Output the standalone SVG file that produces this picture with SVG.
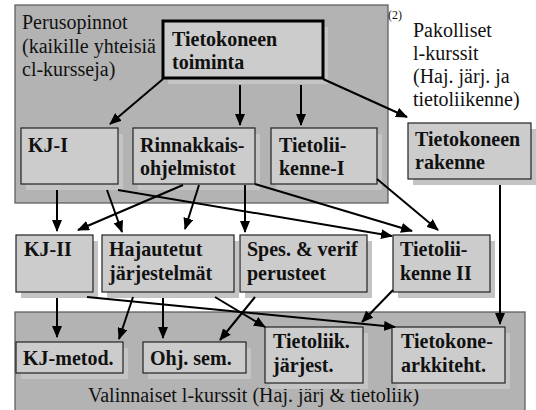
<svg xmlns="http://www.w3.org/2000/svg" width="536" height="410" viewBox="0 0 536 410">
<defs>
<marker id="ah" markerUnits="userSpaceOnUse" markerWidth="12" markerHeight="10" refX="11" refY="5" orient="auto">
<path d="M0,0 L12,5 L0,10 Z" fill="#000"/>
</marker>
<style>
.panel{fill:#b3b3b3;stroke:#555;stroke-width:1.2}
.sh{fill:#c4c4c4}
.box{fill:#cccccc;stroke:#222;stroke-width:1.2}
.bt{font-family:"Liberation Serif","Times New Roman",serif;font-weight:bold;font-size:20px;fill:#111}
.lt{font-family:"Liberation Serif","Times New Roman",serif;font-size:20px;fill:#111}
.c{stroke:#000;stroke-width:2;fill:none;marker-end:url(#ah)}
</style>
</defs>
<rect width="536" height="410" fill="#fff"/>
<g id="panel-top">
<rect class="panel" x="15" y="5" width="373" height="198"/>
<text class="lt" x="22" y="29">Perusopinnot</text>
<text class="lt" x="22" y="53">(kaikille yhteisiä</text>
<text class="lt" x="22" y="76">cl-kursseja)</text>
</g>
<g id="panel-bottom">
<rect class="panel" x="15" y="312" width="510" height="110"/>
<text class="lt" x="88" y="402">Valinnaiset l-kurssit (Haj. järj &amp; tietoliik)</text>
</g>
<g id="label-pakolliset">
<text class="lt" x="388" y="19" style="font-size:12px">(2)</text>
<text class="lt" x="413" y="37">Pakolliset</text>
<text class="lt" x="413" y="60">l-kurssit</text>
<text class="lt" x="413" y="83">(Haj. järj. ja</text>
<text class="lt" x="413" y="106">tietoliikenne)</text>
</g>
<g id="n-toiminta">
<rect class="sh" x="168" y="27" width="160" height="57"/>
<rect x="163" y="21" width="160" height="57" fill="#cccccc" stroke="#000" stroke-width="3"/>
<text class="bt" x="172" y="46">Tietokoneen</text>
<text class="bt" x="172" y="69">toiminta</text>
</g>
<g id="n-kj1">
<rect class="sh" x="26" y="134" width="97" height="56"/>
<rect class="box" x="21" y="128" width="97" height="56"/>
<text class="bt" x="28" y="152">KJ-I</text>
</g>
<g id="n-rinn">
<rect class="sh" x="138" y="134" width="122" height="56"/>
<rect class="box" x="133" y="128" width="122" height="56"/>
<text class="bt" x="140" y="152">Rinnakkais-</text>
<text class="bt" x="140" y="175">ohjelmistot</text>
</g>
<g id="n-tl1">
<rect class="sh" x="276" y="134" width="106" height="56"/>
<rect class="box" x="271" y="128" width="106" height="56"/>
<text class="bt" x="279" y="152">Tietolii-</text>
<text class="bt" x="279" y="175">kenne-I</text>
</g>
<g id="n-rakenne">
<rect class="sh" x="413" y="129" width="123" height="56"/>
<rect class="box" x="408" y="123" width="123" height="56"/>
<text class="bt" x="415" y="146">Tietokoneen</text>
<text class="bt" x="415" y="169">rakenne</text>
</g>
<g id="n-kj2">
<rect class="sh" x="21" y="241" width="77" height="57"/>
<rect class="box" x="16" y="235" width="77" height="57"/>
<text class="bt" x="24" y="256">KJ-II</text>
</g>
<g id="n-haj">
<rect class="sh" x="107" y="241" width="132" height="57"/>
<rect class="box" x="102" y="235" width="132" height="57"/>
<text class="bt" x="109" y="256">Hajautetut</text>
<text class="bt" x="109" y="280">järjestelmät</text>
</g>
<g id="n-spes">
<rect class="sh" x="245" y="241" width="127" height="57"/>
<rect class="box" x="240" y="235" width="127" height="57"/>
<text class="bt" x="247" y="256">Spes. &amp; verif</text>
<text class="bt" x="247" y="280">perusteet</text>
</g>
<g id="n-tl2">
<rect class="sh" x="398" y="241" width="97" height="57"/>
<rect class="box" x="393" y="235" width="97" height="57"/>
<text class="bt" x="400" y="256">Tietolii-</text>
<text class="bt" x="400" y="280">kenne II</text>
</g>
<g id="n-kjmetod">
<rect class="sh" x="21" y="348" width="107" height="31"/>
<rect class="box" x="16" y="342" width="107" height="31"/>
<text class="bt" x="23" y="365">KJ-metod.</text>
</g>
<g id="n-ohjsem">
<rect class="sh" x="148" y="348" width="103" height="31"/>
<rect class="box" x="143" y="342" width="103" height="31"/>
<text class="bt" x="150" y="365">Ohj. sem.</text>
</g>
<g id="n-tljarj">
<rect class="sh" x="270" y="333" width="98" height="56"/>
<rect class="box" x="265" y="327" width="98" height="56"/>
<text class="bt" x="273" y="348">Tietoliik.</text>
<text class="bt" x="273" y="372">järjest.</text>
</g>
<g id="n-arkk">
<rect class="sh" x="397" y="333" width="113" height="56"/>
<rect class="box" x="392" y="327" width="113" height="56"/>
<text class="bt" x="401" y="348">Tietokone-</text>
<text class="bt" x="401" y="372">arkkiteht.</text>
</g>
<g id="connectors">
<line class="c" x1="163" y1="79" x2="110" y2="124"/>
<line class="c" x1="240" y1="85" x2="240" y2="125"/>
<line class="c" x1="301" y1="85" x2="301" y2="125"/>
<line class="c" x1="323" y1="79" x2="407" y2="117"/>
<line class="c" x1="57" y1="190" x2="57" y2="231"/>
<line class="c" x1="183" y1="185" x2="78" y2="230"/>
<line class="c" x1="107" y1="190" x2="122" y2="232"/>
<line class="c" x1="199" y1="185" x2="185" y2="229"/>
<line class="c" x1="245" y1="185" x2="245" y2="232"/>
<line class="c" x1="255" y1="184" x2="412" y2="231"/>
<line class="c" x1="118" y1="190" x2="392" y2="236"/>
<line class="c" x1="377" y1="179" x2="438" y2="230"/>
<line class="c" x1="500" y1="185" x2="500" y2="324"/>
<line class="c" x1="57" y1="298" x2="57" y2="337"/>
<line class="c" x1="133" y1="297" x2="119" y2="339"/>
<line class="c" x1="163" y1="298" x2="163" y2="338"/>
<line class="c" x1="255" y1="297" x2="220" y2="340"/>
<line class="c" x1="215" y1="297" x2="265" y2="327"/>
<line class="c" x1="87" y1="297" x2="395" y2="327"/>
<line class="c" x1="393" y1="290" x2="362" y2="322"/>
</g>
</svg>
